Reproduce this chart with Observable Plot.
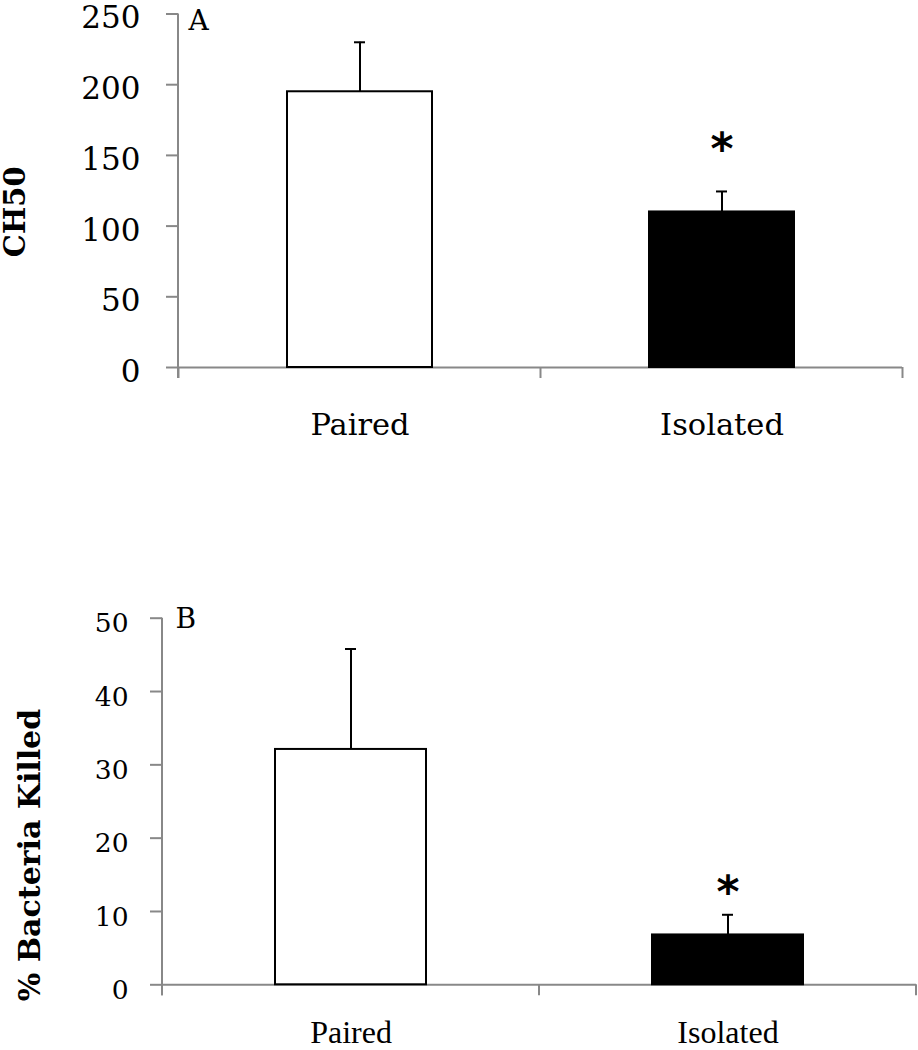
<!DOCTYPE html>
<html><head><meta charset="utf-8">
<script src="https://cdn.jsdelivr.net/npm/d3@7"></script>
<script src="https://cdn.jsdelivr.net/npm/@observablehq/plot@0.6"></script>
<style>
body{margin:0;background:#fff}
#chart svg{display:block}
</style>
</head><body><div id="chart"></div>
<script>
// ---- data ----
const groups = ["Paired", "Isolated"];
const ch50Mean = [195, 110];
const ch50Err = [35, 14.5];
const killedMean = [32.1, 6.8];
const killedErr = [13.7, 2.75];
const ch50Ticks = [0, 50, 100, 150, 200, 250];
const killedTicks = [0, 10, 20, 30, 40, 50];
const sigGroups = ["Isolated"];
const ch50SigY = [161];
const killedSigY = [13.9];
const barFills = ["#ffffff", "#000000"];

const gray = "#888888";

function frameLines(len, color) {
  return function (...args) {
    const scales = args.find(a => a && typeof a === "object" && typeof a.x === "function" && typeof a.y === "function");
    const dims = args.find(a => a && typeof a === "object" && "marginLeft" in a && "height" in a);
    const x = scales.x;
    const bw = x.bandwidth();
    const step = x.step();
    const bottom = dims.height - dims.marginBottom;
    const xs = groups.map(g => x(g) - (step - bw) / 2);
    xs.push(x(groups[groups.length - 1]) + bw + (step - bw) / 2);
    const g = d3.create("svg:g").attr("stroke", color).attr("stroke-width", 2);
    g.append("line").attr("x1", dims.marginLeft).attr("x2", dims.marginLeft)
      .attr("y1", dims.marginTop).attr("y2", bottom + len);
    for (const xv of xs) {
      g.append("line").attr("x1", xv).attr("x2", xv).attr("y1", bottom).attr("y2", bottom + len);
    }
    return g.node();
  };
}

function panel(o) {
  const rows = groups.map((g, i) => ({group: g, mean: o.means[i], top: o.means[i] + o.errs[i]}));
  const sigRows = sigGroups.map((g, i) => ({group: g, y: o.sigY[i]}));
  return Plot.plot({
    width: 918,
    height: o.height,
    marginTop: o.marginTop,
    marginBottom: o.marginBottom,
    marginLeft: o.marginLeft,
    marginRight: o.marginRight,
    style: {fontFamily: "DejaVu Serif", background: "white", color: "black", overflow: "visible"},
    x: {domain: groups, paddingInner: 0.6, paddingOuter: 0.3, axis: null},
    y: {domain: [0, o.yMax], axis: null},
    color: {domain: groups, range: barFills},
    marks: [
      frameLines(11, gray),
      Plot.ruleY([0], {stroke: gray, strokeWidth: 2}),
      Plot.axisY({ticks: o.ticks, tickSize: 12, tickFormat: () => "", stroke: gray, strokeWidth: 2, label: null}),
      Plot.text(o.ticks, {y: d => d, text: d => String(d), frameAnchor: "left", textAnchor: "end", lineAnchor: "middle",
        dx: o.tickDx, dy: o.tickDy, fontSize: o.tickFont, fill: "black"}),
      Plot.text(groups, {x: d => d, text: d => d, frameAnchor: "bottom", lineAnchor: "top", dy: o.catDy,
        fontSize: o.catFont, fontFamily: o.catFamily, fill: "black"}),
      Plot.ruleX(rows, {x: "group", y1: "mean", y2: "top", stroke: "black", strokeWidth: 2}),
      Plot.tickY(rows, {x: "group", y: "top", stroke: "black", strokeWidth: 2, insetLeft: o.capInset, insetRight: o.capInset}),
      Plot.barY(rows, {x: "group", y: "mean", fill: "group", stroke: "black", strokeWidth: 2}),
      Plot.text(sigRows, {x: "group", y: "y", text: () => "*", fontFamily: "DejaVu Sans", fontWeight: "bold",
        fontSize: 44, dy: 10, fill: "black"}),
      Plot.text([o.letter], {text: d => d, frameAnchor: "top-left", textAnchor: "start", lineAnchor: "top",
        dx: o.letterDx, dy: o.letterDy, fontSize: 28, fill: "black"}),
      Plot.text([o.ylabel], {text: d => d, frameAnchor: "left", rotate: -90, textAnchor: "middle", lineAnchor: "middle",
        dx: o.ylabelDx, dy: o.ylabelDy, fontSize: o.ylabelSize, fontWeight: "bold", fill: "black"})
    ]
  });
}

const chartA = panel({
  means: ch50Mean, errs: ch50Err, ticks: ch50Ticks, yMax: 250, sigY: ch50SigY,
  letter: "A", ylabel: "CH50",
  height: 500, marginTop: 13.5, marginBottom: 133, marginLeft: 178, marginRight: 16,
  tickDx: -38, tickDy: 4.5, tickFont: 31,
  catDy: 46, catFont: 30.5, catFamily: "DejaVu Serif",
  capInset: 67,
  letterDx: 10, letterDy: -3.5,
  ylabelDx: -162.5, ylabelDy: 21, ylabelSize: 29
});

const chartB = panel({
  means: killedMean, errs: killedErr, ticks: killedTicks, yMax: 50, sigY: killedSigY,
  letter: "B", ylabel: "% Bacteria Killed",
  height: 550, marginTop: 117.7, marginBottom: 65.7, marginLeft: 162, marginRight: 2,
  tickDx: -34, tickDy: 5.7, tickFont: 26.5,
  catDy: 35, catFont: 32, catFamily: "Liberation Serif",
  capInset: 70,
  letterDx: 13, letterDy: -9.7,
  ylabelDx: -132, ylabelDy: 53.5, ylabelSize: 30
});

document.getElementById("chart").append(chartA, chartB);
</script>
</body></html>
